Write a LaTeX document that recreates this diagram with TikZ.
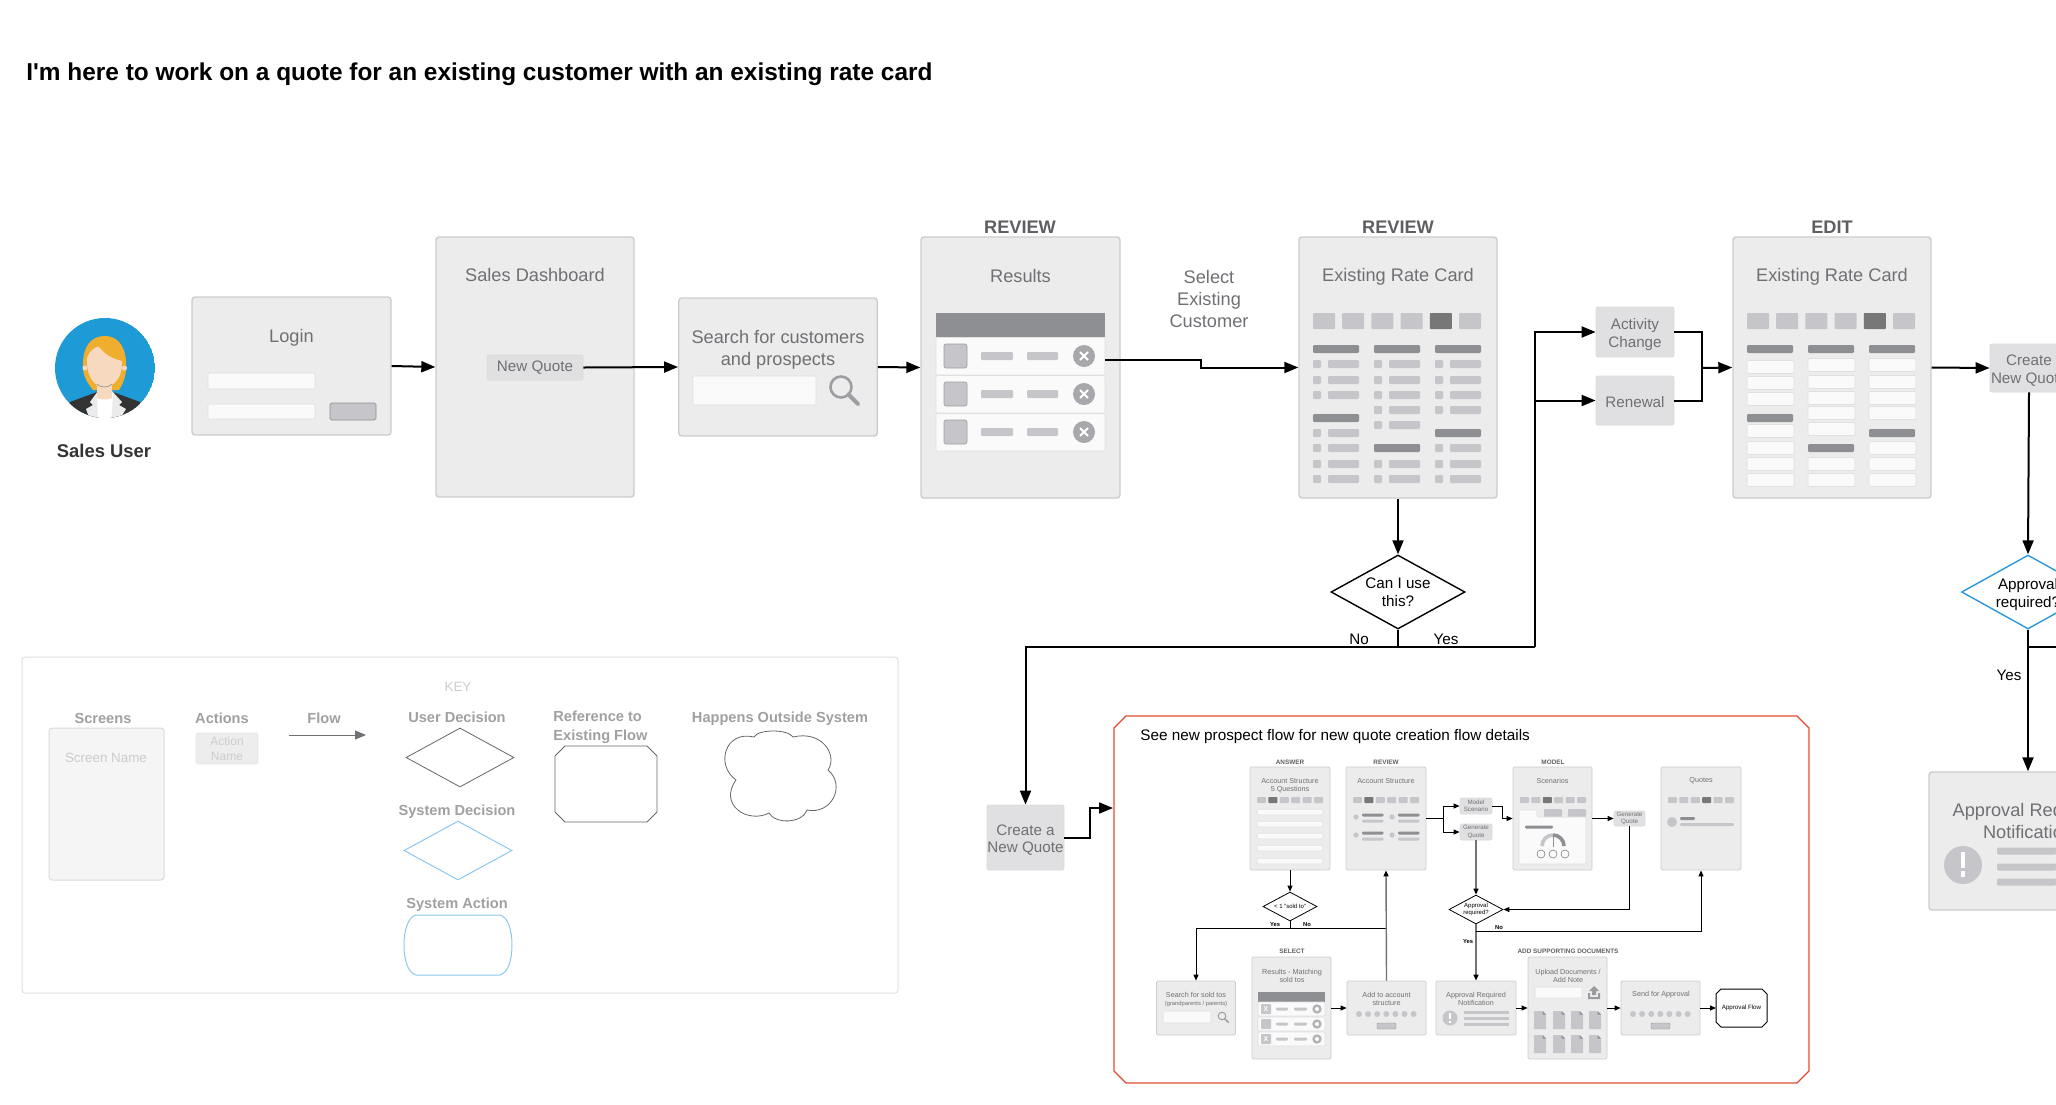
\documentclass[tikz,border=0pt]{standalone}
\usepackage{fontspec}
\setmainfont{Liberation Sans}
\usetikzlibrary{shapes.geometric, arrows.meta, positioning}

\definecolor{scrfill}{HTML}{ECECEC}
\definecolor{scrline}{HTML}{CCCCCC}
\definecolor{actfill}{HTML}{E0E0E2}
\definecolor{txtgray}{HTML}{707074}
\definecolor{keygray}{HTML}{A0A0A0}
\definecolor{barlight}{HTML}{C6C6CA}
\definecolor{bardark}{HTML}{8E8F93}
\definecolor{tabdark}{HTML}{777777}
\definecolor{sysblue}{HTML}{2E96DC}
\definecolor{avatarblue}{HTML}{1E9AD6}
\definecolor{hairgold}{HTML}{F0AE2F}
\definecolor{faceskin}{HTML}{F7D9BF}
\definecolor{keyblue}{HTML}{8CC8EE}
\definecolor{framered}{HTML}{E2492F}

\newcommand{\lowline}{\rule{0pt}{8pt}}

\tikzset{
	sz/.style 2 args={minimum width=#1*0.5pt, minimum height=#2*0.5pt},
	screen/.style={draw=scrline, fill=scrfill, line width=0.7pt, rounded corners=1.5pt, inner sep=0pt},
	smallscreen/.style={screen, line width=0.4pt, rounded corners=0.7pt},
	action/.style={draw=scrline!70, fill=actfill, line width=0.4pt, rounded corners=1pt, inner sep=0pt, align=center, text=txtgray, font=\fontsize{7.6}{8.8}\selectfont},
	smallaction/.style={action, font=\fontsize{3.1}{3.6}\selectfont},
	scrtitle/.style={inner sep=0pt, align=center, text=txtgray, font=\fontsize{9.1}{11}\selectfont},
	smalltitle/.style={inner sep=0pt, align=center, text=txtgray, font=\fontsize{3.6}{4}\selectfont},
	heading/.style={inner sep=0pt, text=txtgray!85!black, font=\bfseries\fontsize{9.1}{11}\selectfont},
	smallheading/.style={inner sep=0pt, text=txtgray!85!black, font=\bfseries\fontsize{3.2}{4}\selectfont},
	keylabel/.style={inner sep=0pt, align=left, text=keygray, font=\bfseries\fontsize{7.3}{9.4}\selectfont},
	blacktext/.style={inner sep=0pt, align=center, font=\fontsize{7.6}{9}\selectfont},
	smallblack/.style={inner sep=0pt, align=center, font=\bfseries\fontsize{2.9}{3.6}\selectfont},
	decision/.style={draw, diamond, shape aspect=1.85, inner sep=0pt, line width=0.7pt, align=center, font=\fontsize{7.6}{9}\selectfont},
	smalldecision/.style={decision, line width=0.4pt, font=\fontsize{3}{3.6}\selectfont},
	flowmain/.style={-{Triangle[length=7pt,width=5.5pt]}, line width=1pt},
	flowsmall/.style={-{Triangle[length=3pt,width=2.5pt]}, line width=0.5pt},
	flowgray/.style={-{Triangle[length=3pt,width=2.5pt,color=black]}, line width=0.7pt, black!55},
	hidden/.style={inner sep=0pt, outer sep=0pt},
	fieldbox/.style={fill=white!98!black, draw=scrline!60, line width=0.3pt, rounded corners=0.6pt},
	barl/.style={fill=barlight, rounded corners=0.6pt},
	bard/.style={fill=bardark, rounded corners=0.6pt},
}

% x, y top, width, height, pitch, dark tab
\newcommand{\tabrow}[6]{
	\foreach \i in {1,...,6} {
		\ifnum\i=#6 \def\tabcol{tabdark}\else\def\tabcol{barlight}\fi
		\fill[\tabcol, rounded corners=0.4pt] ({#1+(\i-1)*#5},#2) rectangle ++(#3,#4);
	}
}
\newcommand{\magnify}[4]{
	\draw[barlight!80!black, line width=#4] (#1,#2) circle (#3);
	\draw[barlight!80!black, line width=1.5*#4, line cap=round] ({#1+0.7*#3},{#2+0.7*#3}) -- ++({0.95*#3},{0.95*#3});
}
\newcommand{\dotrow}[2]{
	\foreach \i in {0,...,6} \fill[barlight] ({#1+\i*9.1},#2) circle (3);
}
% draw options, node, corner cut
\newcommand{\chamfer}[3]{
	\draw[#1] ([xshift=#3]#2.north west) -- ([xshift=-#3]#2.north east) -- ([yshift=-#3]#2.north east) -- ([yshift=#3]#2.south east) -- ([xshift=-#3]#2.south east) -- ([xshift=#3]#2.south west) -- ([yshift=#3]#2.south west) -- ([yshift=-#3]#2.north west) -- cycle;
}

\begin{document}
\begin{tikzpicture}[x=0.5pt,y=-0.5pt]
	\useasboundingbox (0,0) rectangle (2056,1104);
	\clip (0,0) rectangle (2056,1104);

	\node[inner sep=0pt, anchor=west, font=\bfseries\fontsize{12.2}{14}\selectfont] (pagetitle) at (26,74.5) {I\textquotesingle m here to work on a quote for an existing customer with an existing rate card};

	% sales user
	\begin{scope}
		\clip (105,368) circle (50);
		\fill[avatarblue] (105,368) circle (50);
		\fill[black!80] (60,425) -- (70,402) -- (97,392) -- (113,392) -- (140,402) -- (150,425) -- cycle;
		\fill[black!8] (92,425) -- (86,409) -- (93,405) -- (90,402) -- (98,391) -- (112,391) -- (122,402) -- (119,405) -- (126,409) -- (116,425) -- cycle;
		\fill[white] (98,425) -- (97,393) -- (113,393) -- (111,425) -- cycle;
		\fill[hairgold] (83,368) .. controls (82,345) and (92,336) .. (105,336) .. controls (120,336) and (127,350) .. (126,368) .. controls (126,376) and (123,384) .. (119,390) -- (93,390) .. controls (88,384) and (83,376) .. (83,368) -- cycle;
		\fill[faceskin] (97,380) rectangle (112,398);
		\fill[faceskin] (112,398) .. controls (110,400) and (99,400) .. (97,398) -- cycle;
		\fill[faceskin] (85,368) circle (2.5);
		\fill[faceskin] (124.5,368) circle (2.5);
		\fill[faceskin] (87,358) .. controls (90,350) and (96,346) .. (99,347) .. controls (106,356) and (114,359) .. (122,361) .. controls (123,376) and (115,387) .. (104,387) .. controls (93,387) and (86,374) .. (87,358) -- cycle;
		\draw[black!45, line width=0.3pt] (97,384) .. controls (100,388) and (109,388) .. (112,384);
	\end{scope}
	\node[inner sep=0pt, text=black!80, font=\bfseries\fontsize{9.2}{11}\selectfont] (salesuser) at (104,451) {Sales User};

	% first row of screens
	\node[screen, sz={199}{138}] (login) at (291.5,366) {};
	\node[scrtitle] (logintitle) at (291.5,337.5) {Login};
	\draw[fieldbox] (208,373) rectangle (315,389);
	\draw[fieldbox] (208,404) rectangle (315,419);
	\draw[fill=barlight, draw=bardark, line width=0.3pt, rounded corners=0.8pt] (330,403) rectangle (376,420);

	\node[screen, sz={198}{260}] (dashboard) at (535,367) {};
	\node[scrtitle] (dashtitle) at (535,275) {Sales Dashboard};
	\node[action, sz={96}{25}] (newquote) at (535,367.5) {New Quote};

	\node[screen, sz={198.5}{138}] (search) at (778,367) {};
	\node[scrtitle] (searchtitle) at (778,350) {Search for customers\\and prospects};
	\draw[fieldbox] (693,376) rectangle (816,405);
	\magnify{841}{387}{10.5}{1.3pt}

	\node[heading] (reviewa) at (1020,227) {REVIEW};
	\node[screen, sz={199}{261}] (results) at (1020.5,367.5) {};
	\node[scrtitle] (resultstitle) at (1020.5,276) {Results};
	\fill[bardark] (936,313) rectangle (1105,337);
	\foreach \ry in {356,394,432} {
		\draw[fieldbox] (936,\ry-18.5) rectangle (1105,\ry+19);
		\draw[fill=barlight, draw=barlight!80!black, line width=0.3pt, rounded corners=1pt] (944,\ry-12) rectangle (967,\ry+12);
		\fill[barl] (981,\ry-4) rectangle (1013,\ry+4);
		\fill[barl] (1027,\ry-4) rectangle (1058,\ry+4);
		\fill[barlight!85!black] (1084,\ry) circle (11);
		\draw[white, line width=1pt] (1080,\ry-4) -- (1088,\ry+4) (1080,\ry+4) -- (1088,\ry-4);
	}
	\coordinate (selectexit) at (1105,360);
	\node[scrtitle] (selectlabel) at (1209,299) {Select\\Existing\\Customer};

	\node[heading] (reviewb) at (1398,227) {REVIEW};
	\node[screen, sz={198}{261}] (reviewcard) at (1398,367.5) {};
	\node[scrtitle] (reviewtitle) at (1398,277) {Existing Rate Card};
	\tabrow{1313}{313}{22}{16}{29.2}{5}
	\foreach \cx/\hy/\ry in {1313/{349,418}/{364,380,395,433,448,464,479},1374/{349,448}/{364,380,395,410,425,464,479},1435/{349,433}/{364,380,395,410,448,464,479}} {
		\foreach \yy in \hy
			\fill[bard] (\cx,\yy-4) rectangle ++(46,8);
		\foreach \yy in \ry {
			\fill[barl] (\cx,\yy-4) rectangle ++(8,8);
			\fill[barl] (\cx+15,\yy-4) rectangle ++(31,8);
		}
	}

	\node[heading] (editlabel) at (1832,227) {EDIT};
	\node[screen, sz={198}{261}] (editcard) at (1832,367.5) {};
	\node[scrtitle] (edittitle) at (1832,277) {Existing Rate Card};
	\tabrow{1747}{313}{22}{16}{29.2}{5}
	\foreach \cx/\hy/\ry in {1747/{349,418}/{367,383,399,431,448,464,480},1808/{349,448}/{365,382,398,413,429,464,480},1869/{349,433}/{365,382,398,413,448,464,480}} {
		\foreach \yy in \hy
			\fill[bard] (\cx,\yy-4) rectangle ++(46,8);
		\foreach \yy in \ry
			\draw[fieldbox] (\cx,\yy-6.5) rectangle ++(47,13);
	}

	\node[action, sz={78}{50}] (activity) at (1635,332) {\lowline Activity\\Change};
	\node[action, sz={78}{49}] (renewal) at (1635,400.5) {\rule{0pt}{7pt}Renewal};
	\node[action, sz={78}{48}] (createb) at (2029,368) {\lowline Create\\New Quote};
	\node[decision, sz={134}{74}, draw=black] (canuse) at (1398,592) {Can I use\\this?};
	\node[blacktext] (nolabel) at (1359,639) {No};
	\node[blacktext] (yeslabel) at (1446,639) {Yes};
	\node[action, sz={77}{65}] (createa) at (1025.5,837.5) {\lowline Create a\\New Quote};
	\node[decision, sz={132}{74}, draw=sysblue] (apprbig) at (2028,592) {\lowline Approval\\required?};
	\node[blacktext] (yesbig) at (2009,675) {Yes};
	\node[screen, sz={198}{138}] (notebig) at (2028,841) {};
	\node[scrtitle] (notebigtitle) at (2028,821) {Approval Required\\Notification};
	\fill[barlight] (1963,865) circle (19);
	\fill[white] (1961,852) rectangle (1965,868);
	\fill[white] (1961,871) rectangle (1965,877);
	\foreach \yy in {851,867,882}
		\fill[barl] (1997,\yy-3.5) rectangle (2056,\yy+3.5);

	\coordinate (hub) at (1398,647);
	\coordinate (trunk) at (1535,647);
	\coordinate (merge) at (1702,368);
	\coordinate (nobig) at (2028,647);
	\coordinate (nobigend) at (2056,647);
	\coordinate (framein) at (1113,808);

	\draw[flowmain] (login.east) -- (dashboard.west);
	\draw[flowmain] (newquote.east) -- (search.west);
	\draw[flowmain] (search.east) -- (results.west);
	\draw[flowmain] (selectexit) -- ++(96,0) |- (reviewcard.west);
	\draw[flowmain] (reviewcard.south) -- (canuse.north);
	\draw[line width=1pt] (canuse.south) -- (hub);
	\draw[flowmain] (hub) -| (createa.north);
	\draw[line width=1pt] (hub) -- (trunk);
	\draw[flowmain] (trunk) |- (activity.west);
	\draw[flowmain] (trunk) |- (renewal.west);
	\draw[line width=1pt] (activity.east) -| (merge);
	\draw[line width=1pt] (renewal.east) -| (merge);
	\draw[flowmain] (merge) -- (editcard.west);
	\draw[flowmain] (editcard.east) -- (createb.west);
	\draw[flowmain] (createb.south) -- (apprbig.north);
	\draw[flowmain] (apprbig.south) -- (notebig.north);
	\draw[line width=0.7pt] (nobig) -- (nobigend);
	\draw[flowmain] (createa.east) -- ++(26,0) |- (framein);

	% key
	\draw[scrline!60, line width=0.5pt, rounded corners=1.5pt] (22,657) rectangle (898,993);
	\node[inner sep=0pt, text=scrline, font=\fontsize{6.7}{8}\selectfont] (keytitle) at (458,687) {KEY};
	\node[keylabel] (keyscreens) at (103,718) {Screens};
	\node[draw=scrline!70, fill=black!4, line width=0.5pt, rounded corners=1.5pt, sz={115}{152}] (keyscreen) at (106.5,804) {};
	\node[inner sep=0pt, text=scrline, font=\fontsize{6.7}{8}\selectfont] (keyname) at (106,758) {Screen Name};
	\node[keylabel] (keyactions) at (222,718) {Actions};
	\node[draw=scrline!50, fill=black!7, line width=0.3pt, rounded corners=1pt, sz={62}{31}, inner sep=0pt, align=center, text=scrline, font=\fontsize{6}{7.5}\selectfont] (keyaction) at (227,748.5) {Action\\Name};
	\node[keylabel] (keyflow) at (324,718) {Flow};
	\coordinate (keyflowa) at (289,735);
	\coordinate (keyflowb) at (366,735);
	\draw[-{Triangle[length=5.5pt,width=4.5pt]}, txtgray, line width=0.5pt] (keyflowa) -- (keyflowb);
	\node[keylabel] (keyuser) at (457,717.5) {User Decision};
	\node[draw=black!60, diamond, shape aspect=1.8, inner sep=0pt, line width=0.4pt, sz={108}{59}] (keyuserd) at (460,757.5) {};
	\node[keylabel] (keysystem) at (457,812) {System Decision};
	\node[draw=keyblue, diamond, shape aspect=1.8, inner sep=0pt, line width=0.5pt, sz={108}{59}] (keysysd) at (458,850.5) {};
	\node[keylabel] (keyact) at (457,905) {System Action};
	\draw[keyblue, line width=0.5pt] (416,915) -- (500,915) .. controls (508,917) and (512,930) .. (512,945) .. controls (512,960) and (508,973) .. (500,975) -- (416,975) .. controls (408,973) and (404,960) .. (404,945) .. controls (404,930) and (408,917) .. (416,915) -- cycle;
	\node[keylabel, anchor=north west] (keyref) at (553,711) {Reference to\\Existing Flow};
	\node[hidden, sz={102}{76}] (keyrefbox) at (606,784) {};
	\chamfer{black!60, line width=0.4pt}{keyrefbox}{5pt}
	\node[keylabel] (keyout) at (780,719) {Happens Outside System};
	\draw[black!60, line width=0.4pt] (754,737) .. controls (758,729) and (788,729) .. (793,737) .. controls (822,730) and (838,755) .. (828,770) .. controls (846,785) and (832,815) .. (807,810) .. controls (802,824) and (775,824) .. (769,813) .. controls (748,824) and (718,805) .. (736,780) .. controls (715,765) and (725,730) .. (754,737) -- cycle;

	% referenced flow
	\node[hidden, sz={695}{367}] (frame) at (1461.5,899.5) {};
	\chamfer{framered, line width=0.6pt}{frame}{6pt}
	\node[inner sep=0pt, anchor=west, font=\fontsize{7.65}{9}\selectfont] (frametitle) at (1140,736.5) {See new prospect flow for new quote creation flow details};

	\node[smallheading] (answerlabel) at (1290,762) {ANSWER};
	\node[smallscreen, sz={80}{103}] (answer) at (1290,818.5) {};
	\node[smalltitle] (answertitle) at (1290,786) {Account Structure\\5 Questions};
	\tabrow{1257}{797}{9}{6}{11.4}{2}
	\foreach \yy in {812,824,836,848,861}
		\draw[fieldbox] (1257,\yy-2.8) rectangle (1323,\yy+2.8);

	\node[smallheading] (reviewc) at (1386,762) {REVIEW};
	\node[smallscreen, sz={80}{103}] (revsmall) at (1386,818.5) {};
	\node[smalltitle] (revsmalltitle) at (1386,781) {Account Structure};
	\tabrow{1353}{797}{9}{6}{11.4}{2}
	\foreach \cx in {1356,1392}
		\foreach \yy in {817,835} {
			\fill[barlight] (\cx,\yy) circle (2.6);
			\fill[bard] (\cx+6,\yy-3.5) rectangle ++(21.5,3);
			\fill[barl] (\cx+6,\yy+2.5) rectangle ++(21.5,3);
		}

	\node[smallaction, sz={32}{16}] (modelscen) at (1476,806) {Model\\Scenario};
	\node[smallaction, sz={32}{16}] (genquotea) at (1476,832) {Generate\\Quote};

	\node[smallheading] (modellabel) at (1553,762) {MODEL};
	\node[smallscreen, sz={79}{103}] (scenarios) at (1552.5,818.5) {};
	\node[smalltitle] (scentitle) at (1552.5,781) {Scenarios};
	\tabrow{1520}{797}{9}{6}{11.4}{3}
	\fill[barlight, rounded corners=0.4pt] (1544,809) rectangle (1562,817);
	\fill[barlight, rounded corners=0.4pt] (1568,809) rectangle (1586,817);
	\draw[fieldbox] (1519,810) -- (1537,810) -- (1537,817) -- (1586,817) -- (1586,864) -- (1519,864) -- cycle;
	\fill[bard] (1525,825.5) rectangle (1553,828.5);
	\draw[barlight, line width=1.8pt] (1542,846) arc (180:270:11);
	\draw[bardark, line width=1.8pt] (1553,835) arc (270:360:11);
	\draw[bardark, line width=0.3pt] (1553,835) -- (1553,847);
	\foreach \cx in {1541,1553,1565}
		\draw[black!50, line width=0.3pt] (\cx,854) circle (4);

	\node[smallaction, sz={31}{15}] (genquoteb) at (1629.5,818.5) {Generate\\Quote};

	\node[smallscreen, sz={80}{103}] (quotes) at (1701,818.5) {};
	\node[smalltitle] (quotestitle) at (1701,781) {Quotes};
	\tabrow{1668}{797}{9}{6}{11.4}{4}
	\fill[barlight] (1672,822) circle (5);
	\fill[bard] (1680,817) rectangle (1695,820);
	\fill[barl] (1680,823) rectangle (1734,826);

	\node[smalldecision, sz={54}{29}, draw=black] (solddec) at (1290,906.5) {< 1 "sold to"};
	\node[smallblack] (soldyes) at (1275,925) {Yes};
	\node[smallblack] (soldno) at (1307,925) {No};
	\node[smalldecision, sz={54}{29}, draw=black] (apprsmall) at (1476,909.5) {Approval\\required?};
	\node[smallblack] (apprsmallyes) at (1468,942) {Yes};
	\node[smallblack] (apprsmallno) at (1499,928) {No};

	\node[smallscreen, sz={79}{54}] (searchsold) at (1196,1008) {};
	\node[smalltitle] (searchsoldtitle) at (1196,995) {Search for sold tos};
	\node[smalltitle, font=\fontsize{2.9}{3.5}\selectfont] (searchsoldsub) at (1196,1004) {(grandparents / parents)};
	\draw[fieldbox] (1163,1011) rectangle (1211,1023);
	\magnify{1222}{1016}{3.8}{0.5pt}

	\node[smallheading] (selectc) at (1292,951) {SELECT};
	\node[smallscreen, sz={79}{102}] (matching) at (1291.5,1008) {};
	\node[smalltitle] (matchtitle) at (1292,976) {Results - Matching\\sold tos};
	\fill[bardark] (1258,992) rectangle (1325,1002);
	\foreach \ry/\mk in {1009/X,1024/{},1039/X} {
		\draw[fieldbox] (1258,\ry-7) rectangle (1325,\ry+7);
		\fill[barlight, rounded corners=0.4pt] (1261,\ry-5) rectangle (1271,\ry+5);
		\node[inner sep=0pt, text=white, font=\bfseries\fontsize{3.4}{4}\selectfont] (mark\ry) at (1266,\ry) {\mk};
		\fill[barl] (1276,\ry-1.5) rectangle (1288,\ry+1.5);
		\fill[barl] (1294,\ry-1.5) rectangle (1307,\ry+1.5);
		\fill[barlight!90!black] (1317,\ry) circle (4.7);
		\fill[white] (1317,\ry) circle (2);
	}

	\node[smallscreen, sz={79}{54}] (addacct) at (1386.5,1008) {};
	\node[smalltitle] (addtitle) at (1386.5,999) {Add to account\\structure};
	\dotrow{1359}{1014}
	\draw[fill=barlight, draw=bardark, line width=0.2pt, rounded corners=0.6pt] (1377,1023) rectangle (1396,1029);

	\node[smallscreen, sz={80}{54}] (apprnote) at (1476,1008) {};
	\node[smalltitle] (apprnotetitle) at (1476,999) {Approval Required\\Notification};
	\fill[barlight] (1450,1018) circle (7.5);
	\fill[white] (1449.2,1013) rectangle (1450.8,1019);
	\fill[white] (1449.2,1020.5) rectangle (1450.8,1022.5);
	\foreach \yy in {1012,1018,1024}
		\fill[barlight] (1464,\yy-1.5) rectangle (1509,\yy+1.5);

	\node[smallheading] (addlabel) at (1568,951) {ADD SUPPORTING DOCUMENTS};
	\node[smallscreen, sz={79}{102}] (upload) at (1567.5,1008) {};
	\node[smalltitle] (uploadtitle) at (1568,976) {Upload Documents /\\Add Note};
	\draw[fieldbox] (1535,987) rectangle (1582,998);
	\fill[bardark!90] (1594,986) -- (1599,991) -- (1596,991) -- (1596,995) -- (1592,995) -- (1592,991) -- (1589,991) -- cycle;
	\fill[bardark!90] (1588,993) -- (1590,993) -- (1590,997) -- (1598,997) -- (1598,993) -- (1600,993) -- (1600,999) -- (1588,999) -- cycle;
	\foreach \cx in {1534,1553,1571,1589}
		\foreach \cy in {1011,1035} {
			\fill[barlight] (\cx,\cy) -- (\cx+8,\cy) -- (\cx+12,\cy+4) -- (\cx+12,\cy+18) -- (\cx,\cy+18) -- cycle;
			\fill[bardark] (\cx+8.5,\cy) -- (\cx+12,\cy+3.5) -- (\cx+8.5,\cy+3.5) -- cycle;
		}

	\node[smallscreen, sz={79}{54}] (sendappr) at (1660.5,1008) {};
	\node[smalltitle] (sendtitle) at (1661,995) {Send for Approval};
	\dotrow{1633}{1014}
	\draw[fill=barlight, draw=bardark, line width=0.2pt, rounded corners=0.6pt] (1651,1023) rectangle (1670,1029);

	\node[hidden, sz={51}{38}, font=\fontsize{3.1}{3.6}\selectfont] (apprflow) at (1741.5,1008) {Approval Flow};
	\chamfer{line width=0.5pt}{apprflow}{2.5pt}

	\coordinate (revbranch) at (1443,818.5);
	\coordinate (soldhub) at (1290,928);
	\coordinate (soldjoin) at (1386,928);
	\coordinate (nosmall) at (1476,931);

	\draw[flowsmall] (answer.south) -- (solddec.north);
	\draw[line width=0.5pt] (solddec.south) -- (soldhub);
	\draw[flowsmall] (soldhub) -| (searchsold.north);
	\draw[line width=0.5pt] (soldhub) -- (soldjoin);
	\draw[flowgray] (addacct.north) -- (revsmall.south);
	\draw[flowsmall] (matching.east) -- (addacct.west);
	\draw[line width=0.5pt] (revsmall.east) -- (revbranch);
	\draw[flowsmall] (revbranch) |- (modelscen.west);
	\draw[flowsmall] (revbranch) |- (genquotea.west);
	\draw[flowsmall] (modelscen.east) -- ++(10,0) |- (scenarios.west);
	\draw[flowsmall] (scenarios.east) -- (genquoteb.west);
	\draw[flowsmall] (genquoteb.south) |- (apprsmall.east);
	\draw[flowgray] (genquotea.south) -- (apprsmall.north);
	\draw[flowgray] (apprsmall.south) -- (apprnote.north);
	\draw[flowsmall] (nosmall) -| (quotes.south);
	\draw[flowsmall] (apprnote.east) -- (upload.west);
	\draw[flowsmall] (upload.east) -- (sendappr.west);
	\draw[flowsmall] (sendappr.east) -- (apprflow.west);
\end{tikzpicture}
\end{document}
